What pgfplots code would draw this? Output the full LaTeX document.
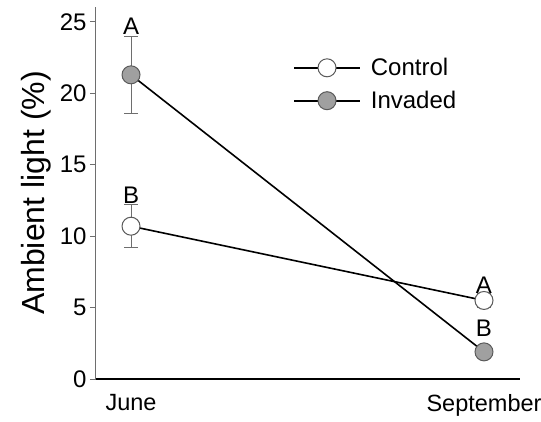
\documentclass[border=0pt]{standalone}
\usepackage{fontspec}
\setmainfont{Liberation Sans}
\usepackage{pgfplots}
\pgfplotsset{compat=1.18}
\definecolor{invfill}{RGB}{160,160,160}
\definecolor{edge}{RGB}{90,90,90}
\definecolor{errc}{RGB}{110,110,110}
\begin{document}
\begin{tikzpicture}
\begin{axis}[
  scale only axis,
  width=424pt, height=372pt,
  xmin=-0.0992, xmax=1.102,
  ymin=0, ymax=26.05,
  axis x line*=bottom, axis y line*=left,
  x axis line style={black, line width=1.6pt, -},
  y axis line style={errc, line width=1pt, -},
  xtick={0,1}, xticklabels={June,September},
  xtick style={draw=none},
  ytick={0,5,10,15,20,25},
  ytick style={errc, line width=1pt},
  tick align=outside,
  major tick length=6pt,
  /pgf/number format/assume math mode=true,
  tick label style={font=\fontsize{24}{27}\selectfont},
  xticklabel style={yshift=-6pt, font=\fontsize{23.5}{27}\selectfont},
  ylabel={Ambient light (\%)},
  ylabel style={font=\fontsize{32}{36}\selectfont, yshift=2pt},
  legend style={at={(axis cs:0.459,20.64)}, anchor=west, draw=none, fill=none,
    inner sep=0pt, row sep=10pt, font=\fontsize{24}{27}\selectfont},
  legend cell align=left,
  legend image code/.code={
    \draw[mark repeat=2, mark phase=2, #1] plot coordinates {(0pt,0pt) (33pt,0pt) (66pt,0pt)};
    \path (74pt,0pt);
  },
  clip=false,
]
\addplot[black, line width=1.6pt, mark=*, mark size=9pt,
  mark options={draw=edge, fill=white, line width=1pt},
  error bars/.cd, y dir=both, y explicit,
  error bar style={errc, line width=1pt},
  error mark options={errc, rotate=90, mark size=7pt, line width=1pt}]
  coordinates {(0,10.7) +- (0,1.5) (1,5.5) +- (0,0.5)};
\addlegendentry{Control}
\addplot[black, line width=1.6pt, mark=*, mark size=9pt,
  mark options={draw=edge, fill=invfill, line width=1pt},
  error bars/.cd, y dir=both, y explicit,
  error bar style={errc, line width=1pt},
  error mark options={errc, rotate=90, mark size=7pt, line width=1pt}]
  coordinates {(0,21.3) +- (0,2.7) (1,1.9) +- (0,0.3)};
\addlegendentry{Invaded}
\node[anchor=south, inner sep=1pt, font=\fontsize{24}{27}\selectfont] at (axis cs:0,24.05) {A};
\node[anchor=south, inner sep=1pt, font=\fontsize{24}{27}\selectfont] at (axis cs:0,12.2) {B};
\node[anchor=south, inner sep=1pt, font=\fontsize{24}{27}\selectfont] at (axis cs:1,5.9) {A};
\node[anchor=south, inner sep=1pt, font=\fontsize{24}{27}\selectfont] at (axis cs:1,2.9) {B};
\end{axis}
\pgfresetboundingbox
\path (current axis.south west) ++(-96pt,-42pt) rectangle ++(541pt,421pt);
\end{tikzpicture}
\end{document}
